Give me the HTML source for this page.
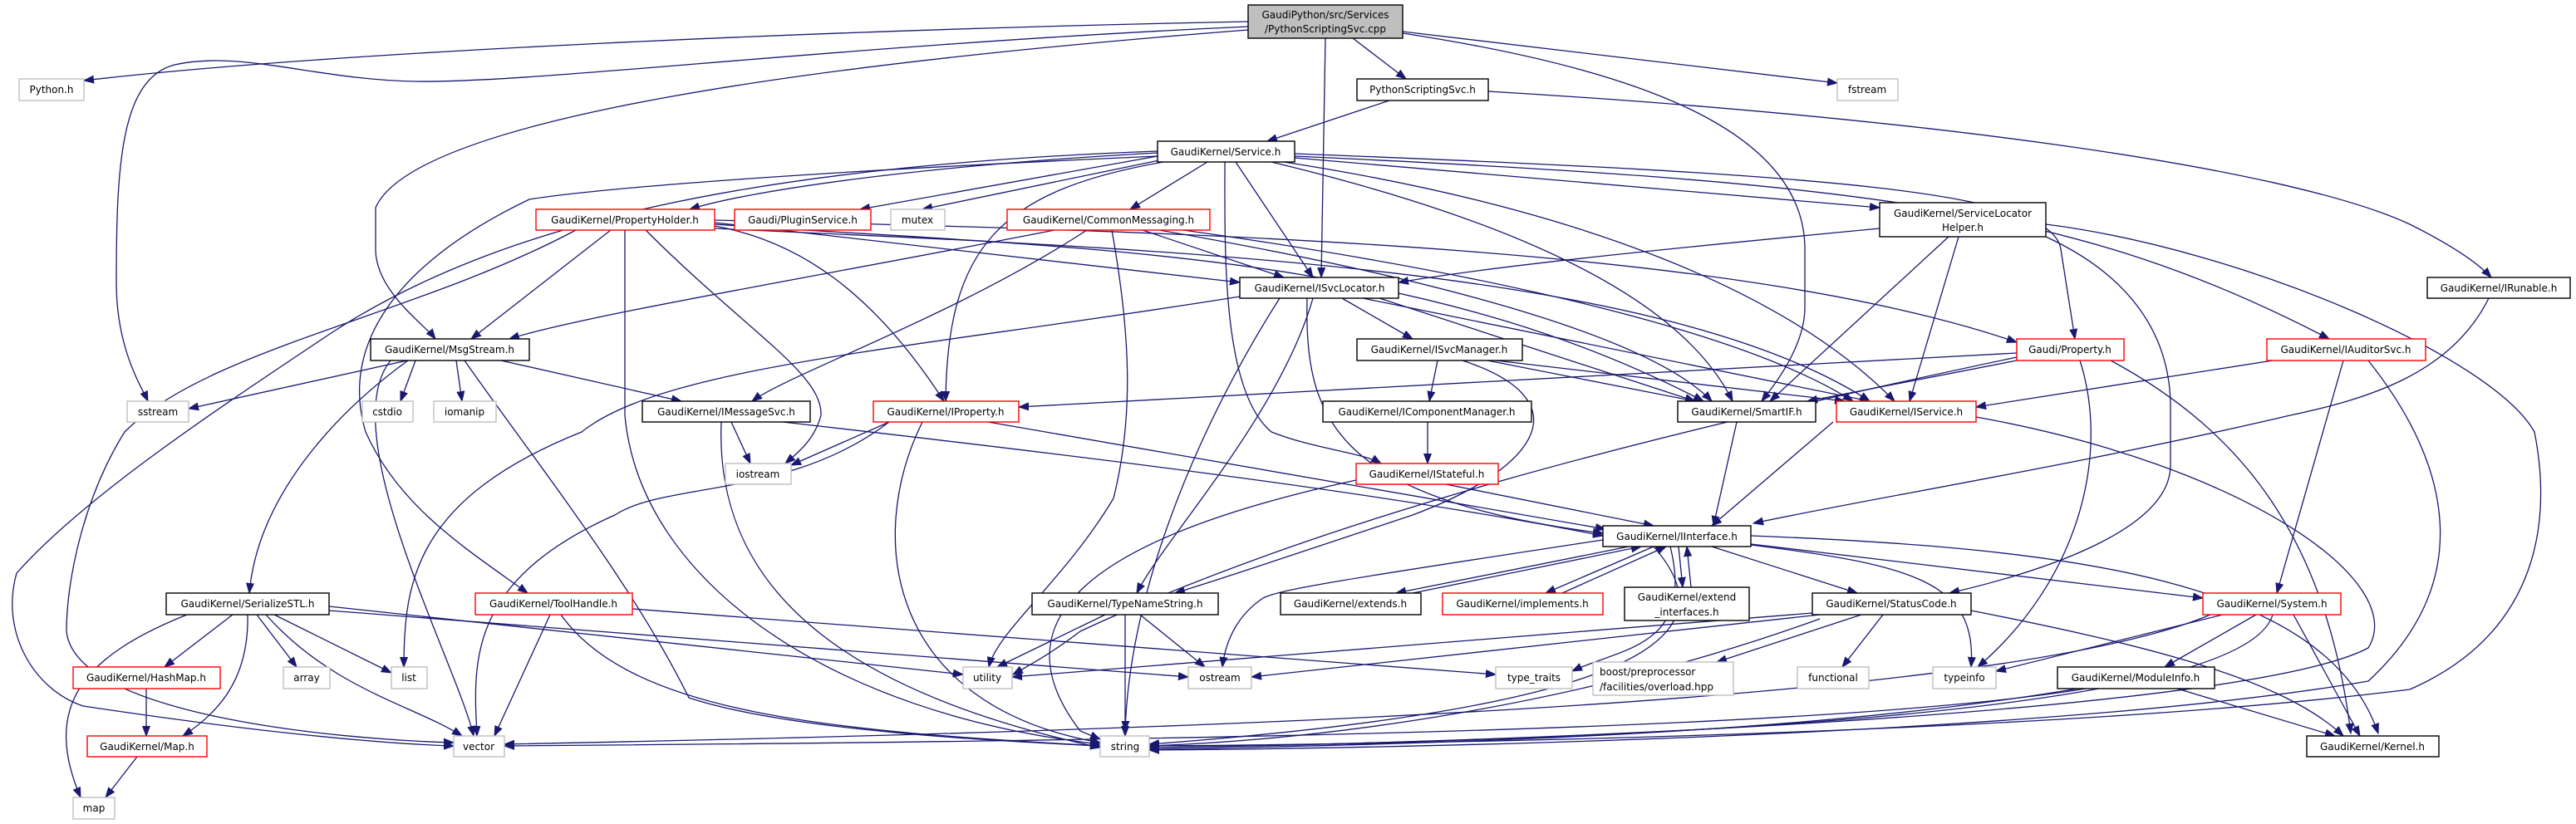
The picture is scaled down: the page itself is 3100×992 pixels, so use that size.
<!DOCTYPE html>
<html><head><meta charset="utf-8"><style>
html,body{margin:0;padding:0;background:#fff;}
svg{display:block;}
text{font-family:"DejaVu Sans","Liberation Sans",sans-serif;font-size:12px;fill:#000;}
.n rect{fill:#fff;stroke:#000;stroke-width:1.4;}
.g rect{fill:#fff;stroke:#bfbfbf;stroke-width:1.4;}
.r rect{fill:#fff;stroke:#ff0000;stroke-width:1.4;}
.e path{fill:none;stroke:#191970;stroke-width:1.3;marker-end:url(#a);}
</style></head><body>
<svg width="3100" height="992" viewBox="0 0 3100 992" xmlns="http://www.w3.org/2000/svg">
<defs><marker id="a" markerWidth="13" markerHeight="10" refX="12" refY="5" orient="auto" markerUnits="userSpaceOnUse"><path d="M0,0.5 L12,5 L0,9.5 z" fill="#191970" stroke="#191970"/></marker></defs>
<g class="e">
<path d="M1502,26 C1000,36 400,62 101,97"/>
<path d="M1502,32 C1000,55 650,100 500,98 C380,96 290,60 210,78 C145,95 140,200 140,340 C140,420 170,465 178,483"/>
<path d="M1502,36 C1000,75 500,140 452,250 L452,300 C452,350 510,390 524,408"/>
<path d="M1628,46 L1692,95"/>
<path d="M1595,46 L1590,334"/>
<path d="M1688,40 C1950,80 2172,150 2172,300 L2172,370 C2172,420 2130,470 2120,483"/>
<path d="M1688,38 L2211,100"/>
<path d="M1672,121 L1525,170"/>
<path d="M1791,110 C2300,140 2750,200 2900,270 C2960,300 2985,320 2998,334"/>
<path d="M1393,184 C1100,200 900,230 830,252"/>
<path d="M1393,188 L1035,252"/>
<path d="M1395,193 L1110,252"/>
<path d="M1453,195 L1360,252"/>
<path d="M1487,195 L1580,334"/>
<path d="M1400,195 C1200,230 1140,300 1138,483"/>
<path d="M1474,195 C1474,300 1470,470 1530,520 C1580,540 1640,545 1662,558"/>
<path d="M1530,195 C1800,260 2020,350 2085,483"/>
<path d="M1545,195 C1900,250 2150,350 2280,483"/>
<path d="M1558,190 L2262,250"/>
<path d="M1558,185 C2200,210 2470,230 2480,300 L2497,408"/>
<path d="M1558,188 C2250,220 2500,250 2803,408"/>
<path d="M1393,182 C900,200 600,270 400,400 C250,500 100,600 20,690 C0,760 40,830 100,850 C300,880 450,895 546,898"/>
<path d="M1393,188 C900,210 700,230 637,240 C470,320 410,420 440,520 C480,610 560,660 635,714"/>
<path d="M2462,285 C2560,330 2612,400 2612,490 L2612,560 C2612,640 2450,690 2346,714"/>
<path d="M2262,275 C2000,300 1800,320 1683,340"/>
<path d="M2345,285 L2130,483"/>
<path d="M2357,285 L2298,483"/>
<path d="M2462,270 C2700,300 3000,430 3050,520 C3070,620 3060,760 2900,830 C2500,880 1800,895 1383,898"/>
<path d="M1269,277 C1000,330 700,380 613,408"/>
<path d="M1308,277 C1150,380 950,450 905,483"/>
<path d="M1375,277 L1545,334"/>
<path d="M1338,277 C1360,400 1365,500 1340,600 C1280,700 1200,760 1190,803"/>
<path d="M1424,277 C1800,330 2100,400 2230,483"/>
<path d="M1395,277 C1700,330 1980,400 2060,483"/>
<path d="M735,277 L567,408"/>
<path d="M860,268 L1492,340"/>
<path d="M860,272 C960,290 1050,350 1136,483"/>
<path d="M752,277 L752,500 C770,700 1000,860 1324,896"/>
<path d="M777,277 C900,400 990,450 988,500 C980,530 960,545 945,558"/>
<path d="M693,277 C500,380 250,420 150,520 C100,600 80,700 80,760 C90,860 400,890 546,894"/>
<path d="M860,270 C1300,300 1700,300 2050,483"/>
<path d="M860,275 C1400,300 2000,320 2250,483"/>
<path d="M860,265 C1500,280 2100,300 2427,412"/>
<path d="M490,434 L227,492"/>
<path d="M500,434 L482,483"/>
<path d="M549,434 L556,483"/>
<path d="M603,434 L820,483"/>
<path d="M491,434 C400,500 310,600 300,714"/>
<path d="M1492,357 C1100,420 800,440 700,520 C500,600 486,700 486,803"/>
<path d="M470,434 C400,520 550,800 570,886"/>
<path d="M559,434 C640,550 760,700 829,840 C950,880 1200,892 1324,898"/>
<path d="M880,508 L903,558"/>
<path d="M868,508 C860,700 1000,830 1324,900"/>
<path d="M942,508 C1400,560 1700,600 1929,645"/>
<path d="M1070,508 L952,560"/>
<path d="M1070,508 C950,600 800,580 740,620 C560,700 570,800 574,886"/>
<path d="M1110,508 C1040,650 1070,850 1324,894"/>
<path d="M1189,508 L1932,637"/>
<path d="M1615,359 L1700,408"/>
<path d="M1580,359 C1540,500 1400,650 1368,714"/>
<path d="M1573,359 C1570,500 1600,600 1929,642"/>
<path d="M1660,359 L2040,483"/>
<path d="M1640,359 L2250,483"/>
<path d="M1540,359 C1450,500 1360,700 1354,880"/>
<path d="M1730,434 L1720,483"/>
<path d="M1790,434 L2040,483"/>
<path d="M1800,434 L2220,483"/>
<path d="M1760,434 C1900,480 1860,560 1700,620 C1550,670 1460,700 1414,714"/>
<path d="M1718,508 L1718,558"/>
<path d="M2427,425 L1226,490"/>
<path d="M2427,434 L2175,483"/>
<path d="M2427,430 C2000,520 1600,620 1300,760 C1260,790 1240,800 1219,812"/>
<path d="M2503,434 C2540,550 2500,700 2380,803"/>
<path d="M2540,434 C2700,520 2800,650 2829,883"/>
<path d="M2735,434 L2378,490"/>
<path d="M2820,434 L2740,714"/>
<path d="M2850,434 C2950,560 2980,700 2850,820 C2500,880 1800,900 1383,903"/>
<path d="M2995,359 C2950,450 2850,480 2756,500 C2500,560 2250,600 2110,630"/>
<path d="M2090,508 L2062,633"/>
<path d="M2206,508 L2060,633"/>
<path d="M2378,502 C2700,560 2900,700 2850,780 C2700,860 1800,895 1383,900"/>
<path d="M1740,583 L1990,633"/>
<path d="M1632,578 C1300,650 1200,750 1300,880 L1324,890"/>
<path d="M1960,658 L1680,714"/>
<path d="M1700,714 L1975,658"/>
<path d="M1990,658 L1860,714"/>
<path d="M1880,714 L2005,658"/>
<path d="M2020,658 L2025,707"/>
<path d="M2035,707 L2030,658"/>
<path d="M2060,658 L2235,714"/>
<path d="M2107,655 L2651,720"/>
<path d="M2107,645 C2500,660 2800,700 2862,883"/>
<path d="M2107,656 C2300,680 2380,700 2372,803"/>
<path d="M1929,650 C1600,700 1540,710 1520,720 C1490,740 1475,770 1471,803"/>
<path d="M2010,658 C2040,780 1950,780 1892,808"/>
<path d="M1990,658 C2080,760 2000,850 1383,896"/>
<path d="M280,740 L198,803"/>
<path d="M298,740 C300,820 260,860 220,886"/>
<path d="M309,740 L357,803"/>
<path d="M330,740 L471,810"/>
<path d="M320,740 C400,830 500,850 556,886"/>
<path d="M225,740 C100,790 50,850 97,960"/>
<path d="M396,730 L1159,812"/>
<path d="M396,735 L1430,815"/>
<path d="M761,733 L1800,812"/>
<path d="M176,829 L176,886"/>
<path d="M165,911 L127,960"/>
<path d="M662,740 L595,886"/>
<path d="M675,740 C760,860 1000,880 1324,898"/>
<path d="M1330,740 L1200,803"/>
<path d="M1372,740 L1450,803"/>
<path d="M1354,740 L1354,886"/>
<path d="M2181,738 L1218,815"/>
<path d="M2190,740 L1506,815"/>
<path d="M2240,740 L2066,797"/>
<path d="M2266,740 L2217,803"/>
<path d="M2372,735 C2600,780 2750,820 2820,886"/>
<path d="M2190,745 C1900,850 1600,890 1383,898"/>
<path d="M2675,740 L2402,808"/>
<path d="M2715,740 L2605,803"/>
<path d="M2760,740 L2840,886"/>
<path d="M2735,740 C2700,860 2000,890 1383,900"/>
<path d="M2660,740 C2400,850 1400,880 607,896"/>
<path d="M2620,829 L2810,886"/>
<path d="M2510,829 C2200,880 1400,892 607,898"/>
<path d="M2500,829 C2200,880 1800,895 1383,902"/>
</g>
<g class="n"><rect x="1502" y="6" width="186" height="40" style="fill:#bfbfbf"/><text x="1595" y="22" text-anchor="middle">GaudiPython/src/Services</text><text x="1595" y="39" text-anchor="middle">/PythonScriptingSvc.cpp</text></g>
<g class="g"><rect x="23" y="95" width="78" height="26"/><text x="62" y="112" text-anchor="middle">Python.h</text></g>
<g class="n"><rect x="1633" y="95" width="158" height="26"/><text x="1712" y="112" text-anchor="middle">PythonScriptingSvc.h</text></g>
<g class="g"><rect x="2211" y="95" width="73" height="26"/><text x="2247" y="112" text-anchor="middle">fstream</text></g>
<g class="n"><rect x="1393" y="170" width="165" height="25"/><text x="1475" y="187" text-anchor="middle">GaudiKernel/Service.h</text></g>
<g class="r"><rect x="645" y="252" width="215" height="25"/><text x="752" y="269" text-anchor="middle">GaudiKernel/PropertyHolder.h</text></g>
<g class="r"><rect x="884" y="252" width="164" height="25"/><text x="966" y="269" text-anchor="middle">Gaudi/PluginService.h</text></g>
<g class="g"><rect x="1072" y="252" width="65" height="25"/><text x="1104" y="269" text-anchor="middle">mutex</text></g>
<g class="r"><rect x="1212" y="252" width="244" height="25"/><text x="1334" y="269" text-anchor="middle">GaudiKernel/CommonMessaging.h</text></g>
<g class="n"><rect x="2262" y="244" width="200" height="41"/><text x="2362" y="261" text-anchor="middle">GaudiKernel/ServiceLocator</text><text x="2362" y="278" text-anchor="middle">Helper.h</text></g>
<g class="n"><rect x="1492" y="334" width="191" height="25"/><text x="1588" y="351" text-anchor="middle">GaudiKernel/ISvcLocator.h</text></g>
<g class="n"><rect x="2921" y="334" width="172" height="25"/><text x="3007" y="351" text-anchor="middle">GaudiKernel/IRunable.h</text></g>
<g class="n"><rect x="446" y="408" width="191" height="26"/><text x="541" y="425" text-anchor="middle">GaudiKernel/MsgStream.h</text></g>
<g class="n"><rect x="1633" y="408" width="199" height="26"/><text x="1732" y="425" text-anchor="middle">GaudiKernel/ISvcManager.h</text></g>
<g class="r"><rect x="2427" y="408" width="129" height="26"/><text x="2491" y="425" text-anchor="middle">Gaudi/Property.h</text></g>
<g class="r"><rect x="2728" y="408" width="191" height="26"/><text x="2823" y="425" text-anchor="middle">GaudiKernel/IAuditorSvc.h</text></g>
<g class="g"><rect x="153" y="483" width="74" height="25"/><text x="190" y="500" text-anchor="middle">sstream</text></g>
<g class="g"><rect x="436" y="483" width="61" height="25"/><text x="466" y="500" text-anchor="middle">cstdio</text></g>
<g class="g"><rect x="522" y="483" width="75" height="25"/><text x="559" y="500" text-anchor="middle">iomanip</text></g>
<g class="n"><rect x="773" y="483" width="202" height="25"/><text x="874" y="500" text-anchor="middle">GaudiKernel/IMessageSvc.h</text></g>
<g class="r"><rect x="1051" y="483" width="175" height="25"/><text x="1138" y="500" text-anchor="middle">GaudiKernel/IProperty.h</text></g>
<g class="n"><rect x="1592" y="483" width="251" height="25"/><text x="1717" y="500" text-anchor="middle">GaudiKernel/IComponentManager.h</text></g>
<g class="n"><rect x="2019" y="483" width="166" height="25"/><text x="2102" y="500" text-anchor="middle">GaudiKernel/SmartIF.h</text></g>
<g class="r"><rect x="2210" y="483" width="168" height="25"/><text x="2294" y="500" text-anchor="middle">GaudiKernel/IService.h</text></g>
<g class="g"><rect x="873" y="558" width="79" height="25"/><text x="912" y="575" text-anchor="middle">iostream</text></g>
<g class="r"><rect x="1632" y="558" width="171" height="25"/><text x="1717" y="575" text-anchor="middle">GaudiKernel/IStateful.h</text></g>
<g class="n"><rect x="1929" y="633" width="178" height="25"/><text x="2018" y="650" text-anchor="middle">GaudiKernel/IInterface.h</text></g>
<g class="n"><rect x="200" y="714" width="196" height="26"/><text x="298" y="731" text-anchor="middle">GaudiKernel/SerializeSTL.h</text></g>
<g class="r"><rect x="572" y="714" width="189" height="26"/><text x="666" y="731" text-anchor="middle">GaudiKernel/ToolHandle.h</text></g>
<g class="n"><rect x="1242" y="714" width="224" height="26"/><text x="1354" y="731" text-anchor="middle">GaudiKernel/TypeNameString.h</text></g>
<g class="n"><rect x="1541" y="714" width="169" height="26"/><text x="1625" y="731" text-anchor="middle">GaudiKernel/extends.h</text></g>
<g class="r"><rect x="1736" y="714" width="193" height="26"/><text x="1832" y="731" text-anchor="middle">GaudiKernel/implements.h</text></g>
<g class="n"><rect x="1955" y="707" width="150" height="40"/><text x="2030" y="723" text-anchor="middle">GaudiKernel/extend</text><text x="2030" y="741" text-anchor="middle">_interfaces.h</text></g>
<g class="n"><rect x="2181" y="714" width="191" height="26"/><text x="2276" y="731" text-anchor="middle">GaudiKernel/StatusCode.h</text></g>
<g class="r"><rect x="2651" y="714" width="166" height="26"/><text x="2734" y="731" text-anchor="middle">GaudiKernel/System.h</text></g>
<g class="r"><rect x="88" y="803" width="177" height="26"/><text x="176" y="820" text-anchor="middle">GaudiKernel/HashMap.h</text></g>
<g class="g"><rect x="341" y="803" width="56" height="26"/><text x="369" y="820" text-anchor="middle">array</text></g>
<g class="g"><rect x="471" y="803" width="43" height="26"/><text x="492" y="820" text-anchor="middle">list</text></g>
<g class="g"><rect x="1159" y="803" width="59" height="26"/><text x="1188" y="820" text-anchor="middle">utility</text></g>
<g class="g"><rect x="1430" y="803" width="76" height="26"/><text x="1468" y="820" text-anchor="middle">ostream</text></g>
<g class="g"><rect x="1800" y="803" width="92" height="26"/><text x="1846" y="820" text-anchor="middle">type_traits</text></g>
<g class="g"><rect x="1917" y="797" width="169" height="40"/><text x="1925" y="813">boost/preprocessor</text><text x="1925" y="831">/facilities/overload.hpp</text></g>
<g class="g"><rect x="2163" y="803" width="86" height="26"/><text x="2206" y="820" text-anchor="middle">functional</text></g>
<g class="g"><rect x="2326" y="803" width="76" height="26"/><text x="2364" y="820" text-anchor="middle">typeinfo</text></g>
<g class="n"><rect x="2476" y="803" width="189" height="26"/><text x="2570" y="820" text-anchor="middle">GaudiKernel/ModuleInfo.h</text></g>
<g class="r"><rect x="105" y="886" width="144" height="25"/><text x="177" y="903" text-anchor="middle">GaudiKernel/Map.h</text></g>
<g class="g"><rect x="546" y="886" width="61" height="25"/><text x="576" y="903" text-anchor="middle">vector</text></g>
<g class="g"><rect x="1324" y="886" width="59" height="25"/><text x="1354" y="903" text-anchor="middle">string</text></g>
<g class="n"><rect x="2776" y="886" width="159" height="25"/><text x="2855" y="903" text-anchor="middle">GaudiKernel/Kernel.h</text></g>
<g class="g"><rect x="88" y="960" width="50" height="26"/><text x="113" y="977" text-anchor="middle">map</text></g>
</svg>
</body></html>
